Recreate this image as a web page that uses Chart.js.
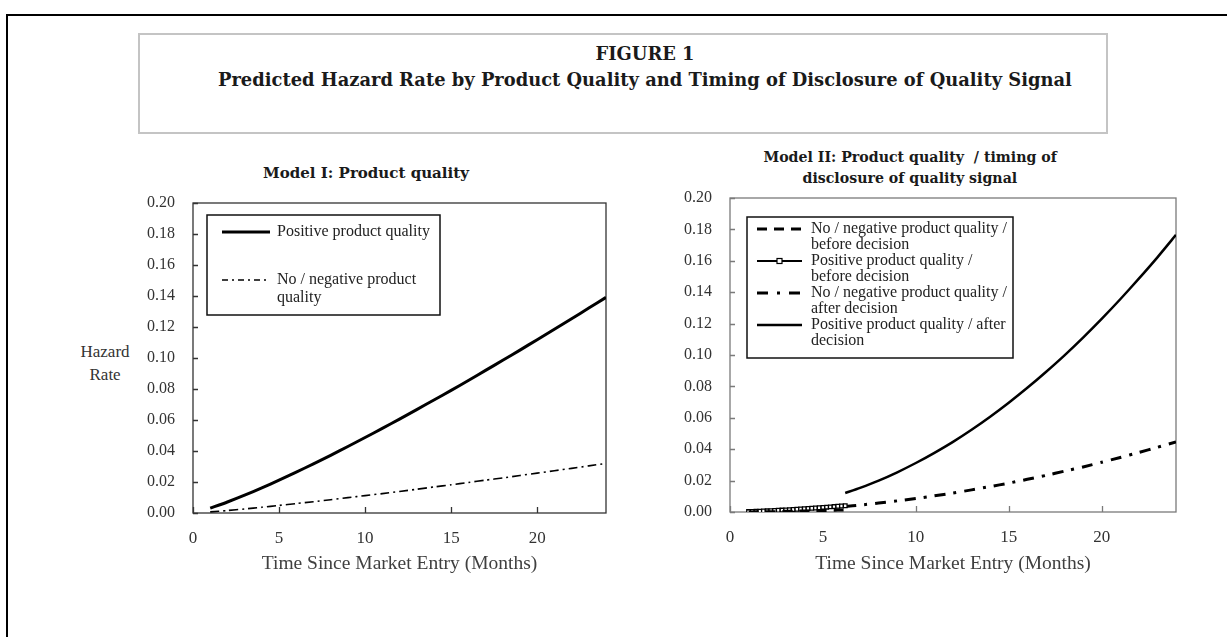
<!DOCTYPE html>
<html>
<head>
<meta charset="utf-8">
<script src="https://cdn.jsdelivr.net/npm/chart.js@4.4.1/dist/chart.umd.min.js"></script>
<style>
	body { margin: 0; width: 1227px; height: 637px; overflow: hidden; position: relative; background: #fff; font-family: 'Liberation Serif', serif; color: #222; }
	#frame { position: absolute; left: 6px; top: 14px; width: 1300px; height: 700px; border: 2px solid #000; }
	#titlebox { position: absolute; left: 138px; top: 33px; width: 970px; height: 101px; box-sizing: border-box; border: 2px solid #c4c4c4; }
	.t { position: absolute; white-space: nowrap; line-height: 24px; height: 24px; }
	.b { font-family: 'DejaVu Serif', serif; font-weight: bold; color: #1a1a1a; }
	.box { position: absolute; }
</style>
</head>
<body>
<div id="frame"></div>
<div id="titlebox"></div>
<div class="t b" id="fig" data-cx="645" data-cy="54" data-size-of="main">FIGURE 1</div>
<div class="t b" id="main" data-cx="645" data-cy="80" data-w="854">Predicted Hazard Rate by Product Quality and Timing of Disclosure of Quality Signal</div>
<div class="t b" id="m1" data-cx="366" data-cy="173" data-w="206">Model I: Product quality</div>
<div class="t b" id="m2a" data-cx="910" data-cy="157" data-w="293">Model II: Product quality &nbsp;/ timing of</div>
<div class="t b" id="m2b" data-cx="910" data-cy="178" data-size-of="m2a">disclosure of quality signal</div>
<div class="t" id="h1" data-cx="105" data-cy="352" data-size="17" style="color:#333">Hazard</div>
<div class="t" id="h2" data-cx="105" data-cy="375" data-size="17" style="color:#333">Rate</div>
<div class="box" style="left:40px;top:140px"><canvas id="model1" width="600" height="450"></canvas></div>
<div class="box" style="left:650px;top:140px"><canvas id="model2" width="570" height="450"></canvas></div>
<script>
const months = [1, 2, 3, 4, 5, 6, 7, 8, 9, 10, 11, 12, 13, 14, 15, 16, 17, 18, 19, 20, 21, 22, 23, 24]
const model1Positive = [0.0031, 0.0071, 0.0115, 0.0162, 0.0212, 0.0264, 0.0317, 0.0372, 0.0429, 0.0487, 0.0546, 0.0606,
	0.0667, 0.0729, 0.0791, 0.0855, 0.0920, 0.0985, 0.1051, 0.1118, 0.1185, 0.1253, 0.1322, 0.1391]
const model1Negative = [0.0007, 0.0016, 0.0026, 0.0037, 0.0049, 0.0061, 0.0073, 0.0086, 0.0099, 0.0112, 0.0125, 0.0139,
	0.0153, 0.0168, 0.0182, 0.0197, 0.0212, 0.0226, 0.0242, 0.0257, 0.0273, 0.0288, 0.0304, 0.0320]

const beforeMonths = [1.0, 1.2, 1.4, 1.6, 1.8, 2.0, 2.2, 2.4, 2.6, 2.8, 3.0, 3.2, 3.4, 3.6, 3.8, 4.0, 4.2, 4.4, 4.6, 4.8,
	5.0, 5.2, 5.4, 5.6, 5.8, 6.0, 6.2]
const model2NegativeBefore = [0.0000, 0.0000, 0.0001, 0.0001, 0.0001, 0.0002, 0.0002, 0.0002, 0.0003, 0.0003, 0.0004,
	0.0004, 0.0005, 0.0005, 0.0006, 0.0006, 0.0007, 0.0007, 0.0008, 0.0008, 0.0009, 0.0010, 0.0010, 0.0011, 0.0012,
	0.0012, 0.0013]
const model2PositiveBefore = [0.00026, 0.00034, 0.00043, 0.00053, 0.00063, 0.00074, 0.00085, 0.00097, 0.00109, 0.00122,
	0.00135, 0.00149, 0.00163, 0.00178, 0.00193, 0.00208, 0.00224, 0.00240, 0.00257, 0.00273, 0.00291, 0.00308,
	0.00326, 0.00345, 0.00363, 0.00382, 0.00401]

const afterMonths = [6.2, 7, 8, 9, 10, 11, 12, 13, 14, 15, 16, 17, 18, 19, 20, 21, 22, 23, 24]
const model2NegativeAfter = [0.0035, 0.0044, 0.0057, 0.0071, 0.0086, 0.0103, 0.0121, 0.0141, 0.0162, 0.0184, 0.0208,
	0.0233, 0.0260, 0.0287, 0.0317, 0.0347, 0.0379, 0.0412, 0.0446]
const model2PositiveAfter = [0.0121, 0.0154, 0.0200, 0.0253, 0.0312, 0.0377, 0.0447, 0.0524, 0.0607, 0.0696, 0.0791,
	0.0892, 0.0998, 0.1111, 0.1230, 0.1355, 0.1486, 0.1622, 0.1765]

const xTicks = [0, 5, 10, 15, 20]
const yTicks = [0, 0.02, 0.04, 0.06, 0.08, 0.10, 0.12, 0.14, 0.16, 0.18, 0.20]

const model1Labels = [['Positive product quality'], ['No / negative product', 'quality']]
const model2Labels = [
	['No / negative product quality /', 'before decision'],
	['Positive product quality /', 'before decision'],
	['No / negative product quality /', 'after decision'],
	['Positive product quality / after', 'decision']
]

const serif = 'Liberation Serif'

// place the html titles: size the font to a given width (or copy another's size), then centre
const sizes = {}
const textEls = [...document.querySelectorAll('.t')]
textEls.sort((a, b) => (a.dataset.sizeOf ? 1 : 0) - (b.dataset.sizeOf ? 1 : 0))
textEls.forEach(el => {
	let size = +(el.dataset.size || 16)
	el.style.fontSize = size + 'px'
	if (el.dataset.w) {
		for (let k = 0; k < 3; k++) {
			size = size * el.dataset.w / el.offsetWidth
			el.style.fontSize = size + 'px'
		}
	}
	if (el.dataset.sizeOf) {
		size = sizes[el.dataset.sizeOf]
		el.style.fontSize = size + 'px'
	}
	sizes[el.id] = size
	el.style.left = (el.dataset.cx - el.offsetWidth / 2) + 'px'
	el.style.top = (el.dataset.cy - 12) + 'px'
})

function points(xs, ys) {
	return xs.map((x, i) => ({ x, y: ys[i] }))
}

function makeScales(xHeight, yWidth) {
	return {
		x: {
			type: 'linear', min: 0, max: 24,
			afterBuildTicks: s => { s.ticks = xTicks.map(v => ({ value: v })) },
			afterFit: s => { s.height = xHeight },
			grid: { display: false }, border: { display: false },
			ticks: { font: { family: serif, size: 17 }, color: '#333', padding: 7, maxRotation: 0 },
			title: {
				display: true, text: 'Time Since Market Entry (Months)', color: '#404040',
				font: { family: serif, size: 19.5 }, padding: { top: 0, bottom: 14 }
			}
		},
		y: {
			min: 0, max: 0.2,
			afterBuildTicks: s => { s.ticks = yTicks.map(v => ({ value: v })) },
			afterFit: s => { s.width = yWidth },
			grid: { display: false }, border: { display: false },
			ticks: { font: { family: serif, size: 16 }, color: '#333', padding: 10, callback: v => v.toFixed(2) }
		}
	}
}

// box around the plot, ticks pointing inwards
const framePlugin = {
	id: 'frame',
	beforeDatasetsDraw(chart, args, opts) {
		const { ctx, chartArea: a, scales } = chart
		ctx.save()
		ctx.strokeStyle = opts.color
		ctx.lineWidth = 1.3
		ctx.strokeRect(a.left, a.top, a.width, a.height)
		ctx.beginPath()
		scales.x.ticks.forEach(t => {
			const px = Math.round(scales.x.getPixelForValue(t.value)) + 0.5
			ctx.moveTo(px, a.bottom)
			ctx.lineTo(px, a.bottom - 6)
		})
		scales.y.ticks.forEach(t => {
			const py = Math.round(scales.y.getPixelForValue(t.value)) + 0.5
			ctx.moveTo(a.left, py)
			ctx.lineTo(a.left + 5, py)
		})
		ctx.stroke()
		ctx.restore()
	}
}

// legend with wrapped labels in a bordered box
const boxLegend = {
	id: 'boxLegend',
	afterDatasetsDraw(chart, args, opts) {
		const { ctx, chartArea: a } = chart
		const [bx, by, bw, bh] = opts.box
		const x0 = a.left + bx
		const y0 = a.top + by
		ctx.save()
		ctx.fillStyle = '#fff'
		ctx.fillRect(x0, y0, bw, bh)
		ctx.strokeStyle = '#111'
		ctx.lineWidth = 1.5
		ctx.strokeRect(x0, y0, bw, bh)
		ctx.font = `16px "${serif}"`
		ctx.textBaseline = 'middle'
		ctx.textAlign = 'left'
		chart.data.datasets.forEach((ds, i) => {
			const rowY = y0 + opts.firstY + i * opts.itemGap
			ctx.strokeStyle = '#000'
			ctx.lineWidth = ds.borderWidth
			ctx.setLineDash(ds.legendDash || ds.borderDash || [])
			ctx.beginPath()
			ctx.moveTo(x0 + opts.sample[0], rowY)
			ctx.lineTo(x0 + opts.sample[1], rowY)
			ctx.stroke()
			ctx.setLineDash([])
			if (ds.pointRadius > 0) {
				const mx = x0 + (opts.sample[0] + opts.sample[1]) / 2
				ctx.fillStyle = '#fff'
				ctx.lineWidth = 1.2
				ctx.fillRect(mx - 2.5, rowY - 2.5, 5, 5)
				ctx.strokeRect(mx - 2.5, rowY - 2.5, 5, 5)
			}
			ctx.fillStyle = '#222'
			ds.legendLines.forEach((line, j) => {
				ctx.fillText(line, x0 + opts.textX, rowY + j * opts.lineH)
			})
		})
		ctx.restore()
	}
}

function baseOptions(padding, xHeight, yWidth) {
	return {
		responsive: false,
		animation: false,
		layout: { padding },
		scales: makeScales(xHeight, yWidth),
		elements: { point: { radius: 0 } },
		plugins: { legend: { display: false }, tooltip: { enabled: false } }
	}
}

const opts1 = baseOptions({ top: 63, right: 34, left: 0, bottom: 0 }, 77, 153)
opts1.plugins.frame = { color: '#333' }
opts1.plugins.boxLegend = { box: [14, 12, 233, 100], firstY: 17, itemGap: 48, lineH: 18, sample: [15, 63], textX: 70 }

new Chart(document.getElementById('model1'), {
	type: 'line',
	data: {
		datasets: [
			{
				legendLines: model1Labels[0], data: points(months, model1Positive),
				borderColor: '#000', borderWidth: 3, tension: 0.2
			},
			{
				legendLines: model1Labels[1], data: points(months, model1Negative),
				borderColor: '#000', borderWidth: 1.6, borderDash: [9, 4, 2, 4], legendDash: [6, 4, 2, 4], tension: 0.2
			}
		]
	},
	options: opts1,
	plugins: [framePlugin, boxLegend]
})

const opts2 = baseOptions({ top: 58, right: 44, left: 0, bottom: 0 }, 78, 80)
opts2.plugins.frame = { color: '#7a7a7a' }
opts2.plugins.boxLegend = { box: [17, 19, 266, 141], firstY: 12, itemGap: 32, lineH: 16, sample: [10, 55], textX: 64 }

new Chart(document.getElementById('model2'), {
	type: 'line',
	data: {
		datasets: [
			{
				legendLines: model2Labels[0], data: points(beforeMonths, model2NegativeBefore),
				borderColor: '#000', borderWidth: 3, borderDash: [10, 7], tension: 0.2
			},
			{
				legendLines: model2Labels[1], data: points(beforeMonths, model2PositiveBefore),
				borderColor: '#000', borderWidth: 2, tension: 0.2,
				pointStyle: 'rect', pointRadius: 2.6, pointBackgroundColor: '#fff', pointBorderColor: '#000', pointBorderWidth: 1.3
			},
			{
				legendLines: model2Labels[2], data: points(afterMonths, model2NegativeAfter),
				borderColor: '#000', borderWidth: 3, borderDash: [11, 8, 3, 8], legendDash: [11, 9, 3, 9], tension: 0.2
			},
			{
				legendLines: model2Labels[3], data: points(afterMonths, model2PositiveAfter),
				borderColor: '#000', borderWidth: 2.5, tension: 0.2
			}
		]
	},
	options: opts2,
	plugins: [framePlugin, boxLegend]
})
</script>
</body>
</html>
